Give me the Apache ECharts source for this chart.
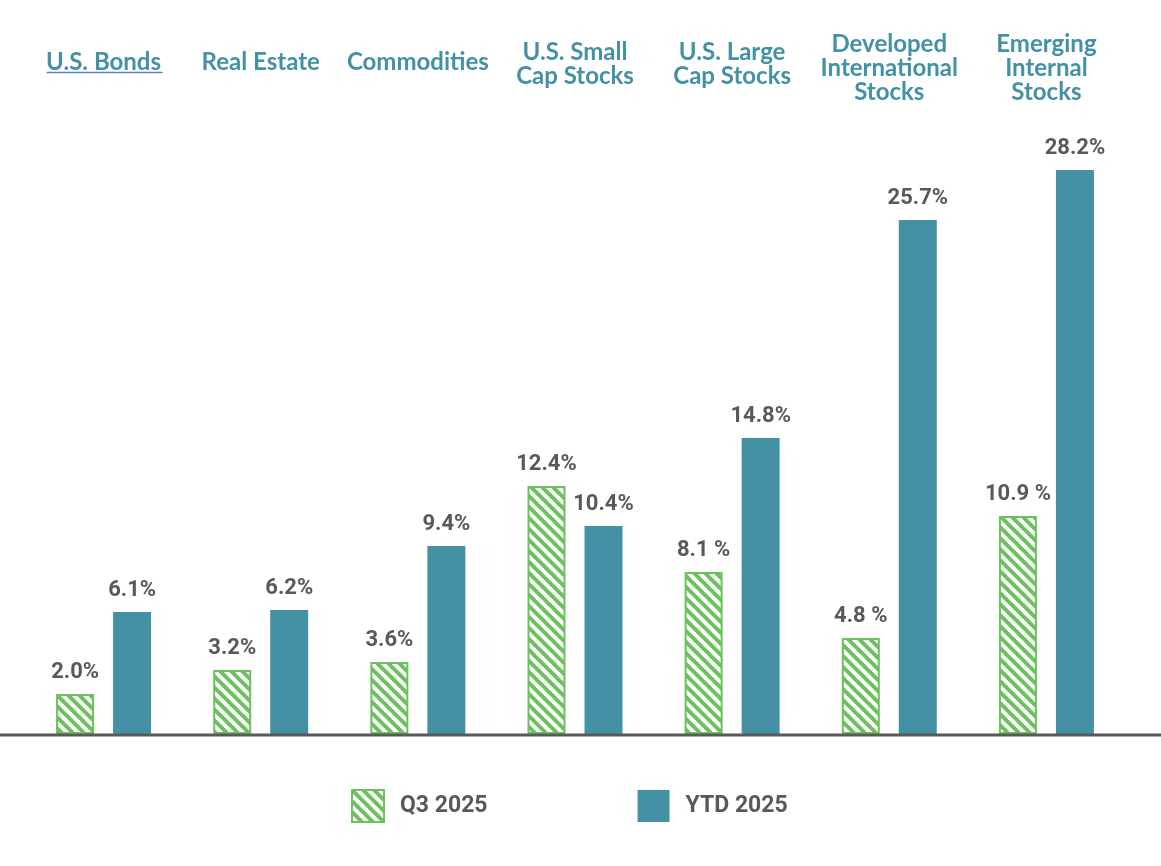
<!DOCTYPE html>
<html>
<head>
<meta charset="utf-8">
<script src="https://cdn.jsdelivr.net/npm/echarts@6/dist/echarts.min.js"></script>
<style>
html,body{margin:0;padding:0;background:#fff;}
#chart{width:1161px;height:866px;}
</style>
</head>
<body>
<div id="chart"></div>
<script>
const categories = ['U.S. Bonds', 'Real Estate', 'Commodities', 'U.S. Small\nCap Stocks', 'U.S. Large\nCap Stocks', 'Developed\nInternational\nStocks', 'Emerging\nInternal\nStocks'];
const q3Values = [2.0, 3.2, 3.6, 12.4, 8.1, 4.8, 10.9];
const ytdValues = [6.1, 6.2, 9.4, 10.4, 14.8, 25.7, 28.2];
const q3Labels = ['2.0%', '3.2%', '3.6%', '12.4%', '8.1 %', '4.8 %', '10.9 %'];
const ytdLabels = ['6.1%', '6.2%', '9.4%', '10.4%', '14.8%', '25.7%', '28.2%'];
const seriesNames = ['Q3 2025', 'YTD 2025'];

const GREEN = '#6cc05e';
const TEAL = '#4490a5';
const GRAY = '#58595b';

function hatch() {
  const s = 11;
  const c = document.createElement('canvas');
  c.width = s; c.height = s;
  const g = c.getContext('2d');
  g.fillStyle = '#ffffff';
  g.fillRect(0, 0, s, s);
  g.strokeStyle = GREEN;
  g.lineWidth = 4;
  for (let k = -1; k <= 1; k++) {
    g.beginPath();
    g.moveTo(k * s - 2, -2);
    g.lineTo(k * s + s + 2, s + 2);
    g.stroke();
  }
  return c;
}
const pattern = { image: hatch(), repeat: 'repeat' };

const labelFont = { fontFamily: 'Roboto, "Open Sans", sans-serif', fontWeight: 'bold', fontSize: 22, color: GRAY };

function catLabel(v) {
  const lines = v.split('\n');
  const body = lines.map(l => '{a|' + l + '}').join('\n');
  if (lines.length === 1) return body + '\n{s|}';
  if (lines.length === 3) return '{t|}\n' + body;
  return body;
}

const chart = echarts.init(document.getElementById('chart'), null, { renderer: 'canvas' });
const option = {
  animation: false,
  backgroundColor: '#ffffff',
  grid: { left: 25, right: 36, top: 134, bottom: 132 },
  legend: {
    left: 346, top: 784,
    itemWidth: 32, itemHeight: 32, itemGap: 150,
    icon: 'rect',
    data: seriesNames,
    textStyle: {
      fontFamily: 'Roboto, "Open Sans", sans-serif',
      fontWeight: 'bold', fontSize: 23, color: GRAY,
      padding: [0, 0, 0, 11]
    }
  },
  xAxis: {
    type: 'category',
    position: 'top',
    data: categories,
    axisLine: { show: false },
    axisTick: { show: false },
    axisLabel: {
      interval: 0,
      margin: 70,
      verticalAlign: 'middle',
      align: 'center',
      formatter: catLabel,
      rich: {
        a: {
          color: TEAL,
          fontFamily: 'Lato, "Open Sans", sans-serif',
          fontWeight: 'bold',
          fontSize: 24,
          lineHeight: 24,
          align: 'center'
        },
        s: { lineHeight: 4, fontSize: 4 },
        t: { lineHeight: 8, fontSize: 8 }
      }
    }
  },
  yAxis: {
    type: 'value', min: 0, max: 30,
    show: false,
    splitLine: { show: false }
  },
  series: [
    {
      name: seriesNames[0], type: 'bar', data: q3Values,
      barWidth: 38, barGap: '50%',
      itemStyle: { color: pattern, borderColor: GREEN, borderWidth: 2 },
      label: Object.assign({
        show: true, position: 'top', distance: 11,
        formatter: p => q3Labels[p.dataIndex]
      }, labelFont)
    },
    {
      name: seriesNames[1], type: 'bar', data: ytdValues,
      barWidth: 38,
      itemStyle: { color: TEAL },
      label: Object.assign({
        show: true, position: 'top', distance: 11,
        formatter: p => ytdLabels[p.dataIndex]
      }, labelFont)
    }
  ]
};
chart.setOption(option);

const y0 = chart.convertToPixel({ yAxisIndex: 0 }, 0);
const xb = chart.convertToPixel({ xAxisIndex: 0 }, 0);
chart.setOption({
  graphic: [
    { type: 'line', z: 100, shape: { x1: 0, y1: y0 + 1, x2: 1161, y2: y0 + 1 }, style: { stroke: GRAY, lineWidth: 3 } },
    { type: 'line', z: 100, shape: { x1: xb - 57, y1: 72.5, x2: xb + 59, y2: 72.5 }, style: { stroke: '#5b80d8', lineWidth: 1.5 } }
  ]
});
</script>
</body>
</html>
